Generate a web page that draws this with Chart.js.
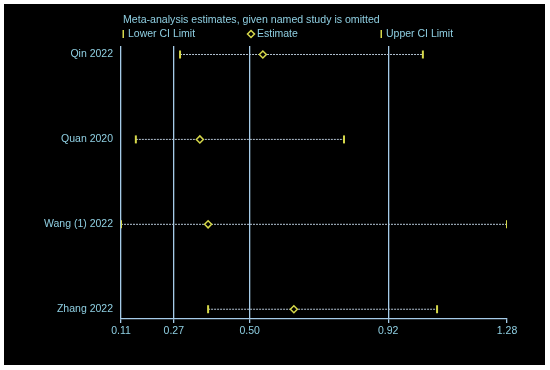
<!DOCTYPE html>
<html>
<head>
<meta charset="utf-8">
<script src="https://cdn.jsdelivr.net/npm/chart.js@4"></script>
<style>
  html, body { margin: 0; padding: 0; background: #ffffff; }
  #wrap { position: absolute; left: 4px; top: 4px; width: 541px; height: 361px; background: #000; }
</style>
</head>
<body>
<div id="wrap"><canvas id="influenceChart"></canvas></div>
<script>
// studies (one row each, top to bottom)
const studies = ['Qin 2022', 'Quan 2020', 'Wang (1) 2022', 'Zhang 2022'];
const lowerCI = [0.289, 0.155, 0.11, 0.374];
const estimate = [0.540, 0.349, 0.374, 0.634];
const upperCI = [1.025, 0.786, 1.28, 1.068];

// reference lines / tick labels on x axis
const xTicks = [0.11, 0.27, 0.50, 0.92, 1.28];
const title = 'Meta-analysis estimates, given named study is omitted';

const textColor = '#8fcfe2';
const lineColor = '#a6cbe8';
const markColor = '#d6d84a';
const font = { family: 'Liberation Sans, Arial, sans-serif', size: 10.5 };

const rows = studies.map((s, i) => i);

// dotted CI line for every study
const ciLines = studies.map((s, i) => ({
    type: 'line',
    label: s,
    data: [{ x: lowerCI[i], y: i }, { x: upperCI[i], y: i }],
    borderColor: '#b4c4d4',
    borderWidth: 1,
    borderDash: [2, 1],
    pointRadius: 0,
    order: 2
}));

// title + custom spread-out legend
const headerPlugin = {
    id: 'header',
    afterDraw(chart) {
        const c = chart.ctx;
        c.save();
        c.font = '10.6px ' + font.family;
        c.textBaseline = 'middle';
        c.fillStyle = textColor;
        c.fillText(title, 119, 16);

        c.font = '10.5px ' + font.family;
        // Lower CI Limit
        c.fillStyle = markColor;
        c.fillRect(118.5, 26, 1.5, 8);
        c.fillStyle = textColor;
        c.fillText('Lower CI Limit', 124, 30);

        // Estimate
        c.strokeStyle = markColor;
        c.lineWidth = 1.5;
        c.beginPath();
        c.moveTo(247, 26.5); c.lineTo(250.5, 30); c.lineTo(247, 33.5); c.lineTo(243.5, 30); c.closePath();
        c.stroke();
        c.fillStyle = textColor;
        c.fillText('Estimate', 253, 30);

        // Upper CI Limit
        c.fillStyle = markColor;
        c.fillRect(376.5, 26, 1.5, 8);
        c.fillStyle = textColor;
        c.fillText('Upper CI Limit', 382, 30);
        c.restore();
    }
};

const ctx = document.getElementById('influenceChart').getContext('2d');

const influenceChart = new Chart(ctx, {
    type: 'scatter',
    data: {
        datasets: [
            {
                label: 'Lower CI Limit',
                data: rows.map(i => ({ x: lowerCI[i], y: i })),
                pointStyle: 'line',
                rotation: 90,
                radius: 4,
                borderWidth: 2,
                borderColor: markColor,
                backgroundColor: markColor,
                order: 0
            },
            {
                label: 'Estimate',
                data: rows.map(i => ({ x: estimate[i], y: i })),
                pointStyle: 'rectRot',
                radius: 3.5,
                borderWidth: 1.5,
                borderColor: markColor,
                backgroundColor: '#000000',
                order: 0
            },
            {
                label: 'Upper CI Limit',
                data: rows.map(i => ({ x: upperCI[i], y: i })),
                pointStyle: 'line',
                rotation: 90,
                radius: 4,
                borderWidth: 2,
                borderColor: markColor,
                backgroundColor: markColor,
                order: 0
            },
            ...ciLines
        ]
    },
    options: {
        responsive: true,
        maintainAspectRatio: false,
        animation: false,
        layout: { padding: { left: 0, right: 38, top: 42, bottom: 26 } },
        plugins: {
            legend: { display: false },
            tooltip: { enabled: false }
        },
        scales: {
            x: {
                type: 'linear',
                min: 0.11,
                max: 1.28,
                afterBuildTicks: axis => { axis.ticks = xTicks.map(v => ({ value: v })); },
                afterFit: axis => { axis.height = 20; },
                ticks: {
                    color: textColor,
                    font: font,
                    padding: 2,
                    maxRotation: 0,
                    autoSkip: false,
                    callback: v => v.toFixed(2)
                },
                grid: {
                    color: c => (c.tick && c.tick.value === 1.28 ? 'rgba(0,0,0,0)' : lineColor),
                    tickColor: lineColor,
                    tickLength: 4,
                    lineWidth: 1.3
                },
                border: { color: lineColor, width: 1.3 }
            },
            y: {
                type: 'linear',
                min: -0.1,
                max: 3.115,
                reverse: true,
                afterBuildTicks: axis => { axis.ticks = rows.map(v => ({ value: v })); },
                afterFit: axis => { axis.width = 117; },
                ticks: {
                    color: textColor,
                    font: font,
                    padding: 8,
                    autoSkip: false,
                    callback: v => studies[v]
                },
                grid: { display: false, drawTicks: false },
                border: { display: false }
            }
        }
    },
    plugins: [headerPlugin]
});
</script>
</body>
</html>
